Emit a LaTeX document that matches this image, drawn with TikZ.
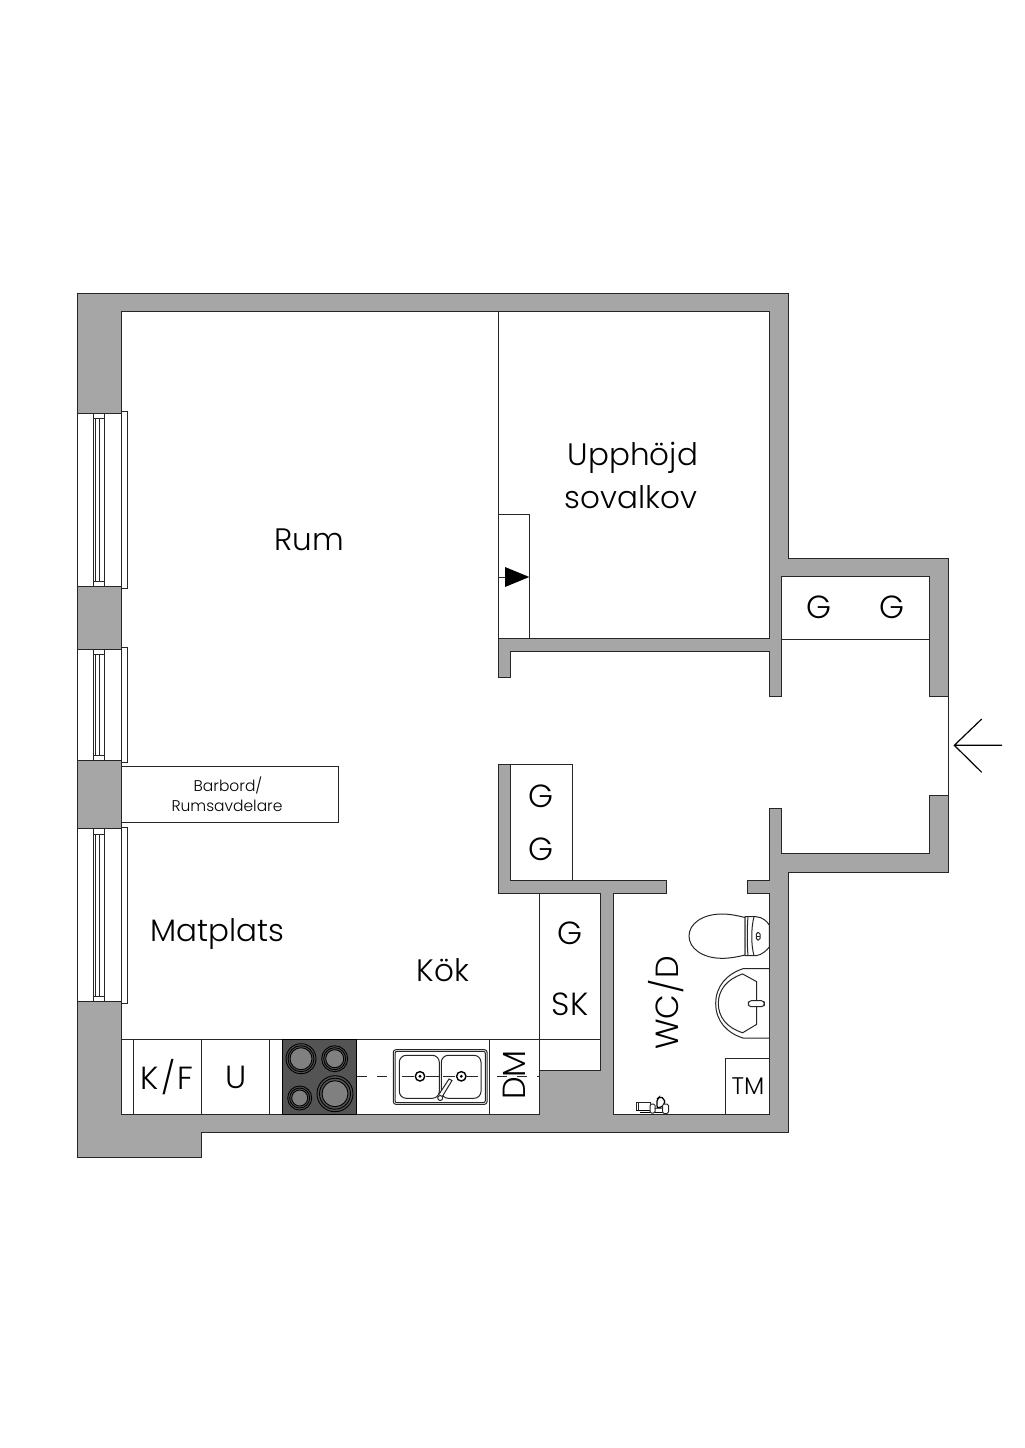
\documentclass[tikz,border=0pt]{standalone}
\usepackage{fontspec}
\setmainfont{Poppins Light}
\usepackage{tikz}

\begin{document}
\begin{tikzpicture}[x=1bp,y=-1bp,
    wall/.style={draw=black!85,fill=black!35,line width=1bp,line join=miter},
    thin/.style={draw=black!85,line width=1bp},
    box/.style={draw=black!85,fill=white,line width=1bp},
    burner/.style={draw=black,line width=0.9bp},
    big/.style={font=\fontsize{31bp}{36bp}\selectfont,inner sep=0pt,anchor=base},
    mid/.style={font=\fontsize{32bp}{36bp}\selectfont,inner sep=0pt},
    small/.style={font=\fontsize{15.5bp}{18bp}\selectfont,inner sep=0pt}]
    \useasboundingbox (0,0) rectangle (1024,1448);
    \fill[white] (0,0) rectangle (1024,1448);

    % Walls
    \path[wall] (77.5,293) -- (788,293) -- (788,558.5) -- (948,558.5) -- (948,696.7)
        -- (929.3,696.7) -- (929.3,576.7) -- (781.7,576.7) -- (781.7,696.7) -- (769.3,696.7)
        -- (769.3,651.3) -- (510.7,651.3) -- (510.7,677.3) -- (498,677.3) -- (498,638.7)
        -- (769.3,638.7) -- (769.3,311) -- (121,311) -- (121,1114) -- (539,1114) -- (539,1070)
        -- (600.7,1070) -- (600.7,893.3) -- (498,893.3) -- (498,764) -- (510.7,764)
        -- (510.7,880.7) -- (666.7,880.7) -- (666.7,893.3) -- (613.3,893.3) -- (613.3,1114)
        -- (769.3,1114) -- (769.3,893.3) -- (747.3,893.3) -- (747.3,880.7) -- (769.3,880.7)
        -- (769.3,808) -- (781.7,808) -- (781.7,853.3) -- (929.3,853.3) -- (929.3,795.7)
        -- (948,795.7) -- (948,872) -- (788,872) -- (788,1132.7) -- (201.7,1132.7)
        -- (201.7,1157) -- (77.5,1157) -- cycle;
    \draw[thin] (948,696.7) -- (948,795.7);
    \draw[thin] (498,311) -- (498,638.7);
    \draw[thin] (781.7,639) -- (929.3,639);

    % Window 1
    \draw[box] (121,411.7) rectangle (127.3,588);
    \draw[box] (77.5,413.3) rectangle (121,586.7);
    \draw[box] (93.7,413.3) rectangle (104.7,586.7);
    \draw[thin] (93.7,418.5) -- (104.7,418.5) (93.7,581.5) -- (104.7,581.5);
    \draw[thin] (95.6,418.5) -- (95.6,581.5) (99,418.5) -- (99,581.5);

    % Window 2
    \draw[box] (121,647.7) rectangle (127.3,762);
    \draw[box] (77.5,649) rectangle (121,760.7);
    \draw[box] (93.7,649) rectangle (104.7,760.7);
    \draw[thin] (93.7,654.5) -- (104.7,654.5) (93.7,755.5) -- (104.7,755.5);
    \draw[thin] (95.6,654.5) -- (95.6,755.5) (99,654.5) -- (99,755.5);

    % Window 3
    \draw[box] (121,827) rectangle (127.3,1003.3);
    \draw[box] (77.5,828.3) rectangle (121,1001.7);
    \draw[box] (93.7,828.3) rectangle (104.7,1001.7);
    \draw[thin] (93.7,834) -- (104.7,834) (93.7,996.5) -- (104.7,996.5);
    \draw[thin] (95.6,834) -- (95.6,996.5) (99,834) -- (99,996.5);

    % Bar counter
    \node[box,minimum width=217bp,minimum height=55.6bp,inner sep=0pt] (bar) at (229.5,794.5) {};
    \node[small] (barone) at (228,785) {Barbord/};
    \node[small] (bartwo) at (227,806) {Rumsavdelare};

    % Closets
    \draw[thin] (498,514.7) -- (529.3,514.7) -- (529.3,638.7);
    \draw[thin] (498,577) -- (505,577);
    \fill[black] (505,567) -- (529.3,577) -- (505,587) -- cycle;
    \draw[thin] (510.7,764) -- (572.3,764) -- (572.3,880.7);
    \draw[thin] (539,893.3) -- (539,1114);
    \draw[thin] (539,1039.5) -- (600.7,1039.5);

    % Kitchen units
    \draw[thin] (121,1039.5) -- (539,1039.5);
    \draw[thin] (133.3,1039.5) -- (133.3,1114);
    \draw[thin] (201.7,1039.5) -- (201.7,1114);
    \draw[thin] (269.7,1039.5) -- (269.7,1114);
    \draw[thin] (489.3,1039.5) -- (489.3,1114);

    % Centre line
    \draw[thin,dash pattern=on 10bp off 10bp] (357,1076.5) -- (539,1076.5);

    % Hob
    \draw[draw=black,fill=black!67,line width=1bp] (282.3,1039.5) rectangle (356.7,1114);
    \draw[burner,fill=black!50] (301,1058.7) circle (11);
    \draw[burner] (301,1058.7) circle (13) circle (15);
    \draw[burner,fill=black!50] (334.7,1058.7) circle (9);
    \draw[burner] (334.7,1058.7) circle (11) circle (13);
    \draw[burner,fill=black!50] (299.7,1098) circle (8);
    \draw[burner] (299.7,1098) circle (10) circle (12);
    \draw[burner,fill=black!50] (335,1093.7) circle (13);
    \draw[burner] (335,1093.7) circle (15.5) circle (18);

    % Sink
    \draw[box,rounded corners=2.5bp] (393.3,1049.7) rectangle (487,1104.3);
    \draw[thin,rounded corners=2bp] (395,1051.3) rectangle (485.3,1102.7);
    \draw[thin,rounded corners=7bp] (399.3,1055.3) rectangle (439.3,1098.3);
    \draw[thin,rounded corners=7bp] (441.3,1055.3) rectangle (481,1098.3);
    \draw[thin] (402,1076.5) -- (414,1076.5) (426,1076.5) -- (439,1076.5) (443,1076.5) -- (455,1076.5) (467,1076.5) -- (478,1076.5);
    \draw[burner,fill=white,line width=1.4bp] (420,1076.3) circle (4.7);
    \fill[black] (420,1076.3) circle (1.6);
    \draw[burner,fill=white,line width=1.4bp] (461.3,1076.3) circle (4.7);
    \fill[black] (461.3,1076.3) circle (1.6);
    \draw[box] (438.5,1095) -- (449,1079) -- (452,1080.5) -- (442,1097);
    \draw[box] (440.2,1098) circle (2.5);

    % Toilet
    \draw[box] (745,917.5) .. controls (737,915.5) and (730,914) .. (722,914)
        .. controls (702,914) and (689,924) .. (689,936)
        .. controls (689,948) and (702,958.3) .. (722,958.3)
        .. controls (730,958.3) and (737,957) .. (745,955) -- cycle;
    \draw[box] (745,916.7) -- (745,955.7) -- (756,955.7) .. controls (762,955) and (767,950) .. (769.3,947)
        -- (769.3,925) .. controls (767,921) and (762,917) .. (756,916.7) -- cycle;
    \draw[thin] (748,916.7) .. controls (747,928) and (747,945) .. (748,955.7);
    \draw[thin] (754,916.7) .. controls (751,928) and (751,945) .. (754,955.7);
    \draw[thin,rounded corners=1.5bp] (756.3,932.5) rectangle (760,940);
    \draw[thin] (756.3,936.2) -- (760,936.2);

    % Wash basin
    \draw[thin] (769.3,968.7) -- (743,968.7) .. controls (727,974) and (715.7,986) .. (715.7,1003.5)
        .. controls (715.7,1021) and (727,1033) .. (743,1038) -- (769.3,1038);
    \draw[thin] (756.7,981.7) -- (742.7,974) .. controls (727,979) and (718.3,990) .. (718.3,1003.5)
        .. controls (718.3,1017) and (727,1028) .. (742.7,1032.7) -- (756.7,1024.3) -- cycle;
    \draw[box,rounded corners=3bp] (748.3,1000.7) rectangle (764.3,1006.7);

    % Bath room bits
    \draw[thin] (725.7,1114) -- (725.7,1058.3) -- (769.3,1058.3);
    \draw[thin,fill=white] (636,1102) -- (650,1102) -- (650,1110) -- (636,1110) -- cycle;
    \draw[thin] (638.5,1102) -- (638.5,1110);
    \draw[line width=1.3bp] (636,1110.5) -- (651,1110.5) (640,1112.5) -- (668,1112.5);
    \draw[thin,fill=white,rounded corners=1.5bp] (650,1104) rectangle (655,1113);
    \draw[line width=1.3bp,fill=white,rounded corners=2bp] (657,1108) -- (657,1099) -- (660,1096.5) -- (664,1098.5) -- (665,1104) -- (660,1108) -- cycle;
    \draw[thin,fill=white,rounded corners=1.5bp] (662.5,1104) rectangle (668.5,1113.5);

    % Entrance
    \coordinate (arrowtip) at (954.3,745.3);
    \coordinate (arrowend) at (1002,745.3);
    \coordinate (arrowup) at (981.7,719);
    \coordinate (arrowdown) at (981.7,772.3);
    \draw[line width=1.2bp] (arrowend) -- (arrowtip) (arrowup) -- (arrowtip) -- (arrowdown);

    % Labels
    \node[big] (rum) at (309.5,550) {Rum};
    \node[big] (upphojd) at (633,465.5) {Upphöjd};
    \node[big] (sovalkov) at (631,508) {sovalkov};
    \node[big] (matplats) at (217.5,941) {Matplats};
    \node[big] (kok) at (443,981.5) {Kök};
    \node[mid] (gone) at (819,607.5) {G};
    \node[mid] (gtwo) at (892,607.5) {G};
    \node[mid] (gthree) at (541,796.5) {G};
    \node[mid] (gfour) at (541,849.5) {G};
    \node[mid] (gfive) at (570,933.5) {G};
    \node[mid] (sk) at (570,1004) {SK};
    \node[mid] (kf) at (167,1077) {K\kern2bp/\kern2bp F};
    \node[mid] (u) at (236.5,1077) {U};
    \node[mid,rotate=90] (dm) at (514,1075) {DM};
    \node[mid,rotate=90] (wcd) at (666,1003) {WC\kern1bp/\kern1bp D};
    \node[font=\fontsize{24bp}{27bp}\selectfont,inner sep=0pt] (tm) at (748,1086) {TM};
\end{tikzpicture}
\end{document}
